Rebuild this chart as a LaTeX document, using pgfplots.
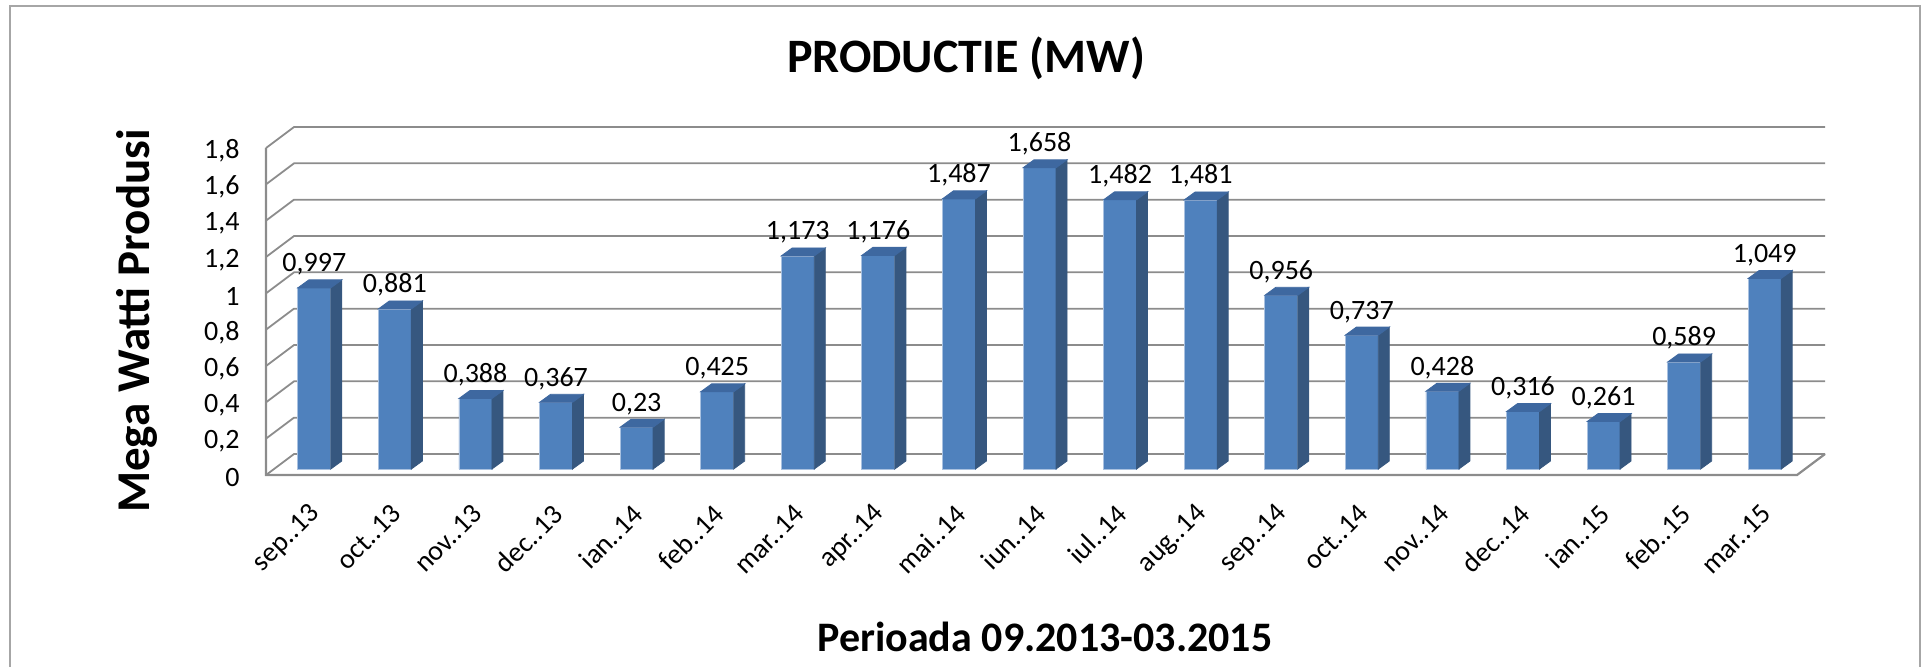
\documentclass[border=0pt]{standalone}
\usepackage{pgfplots}
\pgfplotsset{compat=1.18}
\usepackage{pgfplotstable}
\usepackage{fontspec}
\setmainfont{Carlito}
\definecolor{barfront}{HTML}{4F81BD}
\definecolor{barside}{HTML}{36577F}
\definecolor{bartop}{HTML}{3E68A0}
\definecolor{baredge}{HTML}{A9C1E0}
\definecolor{gridc}{HTML}{8C8C8C}
\definecolor{framec}{HTML}{A6A6A6}
\pgfdeclareplotmark{empty3d}{}
\pgfplotstableread{
x y lab
0 0.997 sep..13
1 0.881 oct..13
2 0.388 nov..13
3 0.367 dec..13
4 0.23 ian..14
5 0.425 feb..14
6 1.173 mar..14
7 1.176 apr..14
8 1.487 mai..14
9 1.658 iun..14
10 1.482 iul..14
11 1.481 aug..14
12 0.956 sep..14
13 0.737 oct..14
14 0.428 nov..14
15 0.316 dec..14
16 0.261 ian..15
17 0.589 feb..15
18 1.049 mar..15
}\data
\begin{document}
\begin{tikzpicture}
\useasboundingbox (0,0) rectangle (963.5pt,-333.5pt);
\draw[framec, line width=1pt] (5pt,-3pt) rectangle (960pt,-345pt);
\begin{axis}[
  at={(137pt,-234.5pt)}, anchor=south west,
  scale only axis, width=765.5pt, height=163.5pt,
  xmin=-0.5, xmax=18.5, ymin=0, ymax=1.8,
  clip=false,
  axis line style={draw=none},
  major tick length=0pt,
  xtick=data,
  xticklabels from table={\data}{lab},
  ytick={0,0.2,0.4,0.6,0.8,1,1.2,1.4,1.6,1.8},
  /pgf/number format/use comma,
  /pgf/number format/precision=3,
  /pgf/number format/assume math mode=true,
  yticklabel style={font=\fontsize{14}{16}\selectfont, anchor=east, inner sep=0pt, xshift=-17pt, yshift=-4.5pt},
  xticklabel style={font=\fontsize{14}{16}\selectfont, inner sep=0pt, yshift=-20pt, xshift=1pt, rotate=45, anchor=east},
  every axis title shift=0pt,
  title={PRODUCTIE (MW)},
  title style={at={(axis description cs:0.452,1.214)}, anchor=base, font=\fontsize{24}{28}\selectfont\bfseries, inner sep=0pt},
  xlabel={Perioada 09.2013-03.2015},
  xlabel style={at={(axis description cs:0.5036,-0.5596)}, anchor=base, font=\fontsize{21}{25}\selectfont\bfseries, inner sep=0pt},
  ylabel={Mega Watti Produsi},
  ylabel style={at={(axis description cs:-0.081,0.4526)}, anchor=base, font=\fontsize{23.5}{27}\selectfont\bfseries, inner sep=0pt},
]
\pgfplotsinvokeforeach{0,0.2,0.4,0.6,0.8,1,1.2,1.4,1.6,1.8}{
  \draw[gridc, line width=0.9pt] ([xshift=-4pt,yshift=-3pt]axis cs:-0.5,#1) -- ([xshift=10pt,yshift=7.5pt]axis cs:-0.5,#1) -- ([xshift=10pt,yshift=7.5pt]axis cs:18.5,#1);
}
\draw[gridc, line width=1.1pt] ([xshift=-4pt,yshift=-3pt]axis cs:-0.5,1.8) -- ([xshift=-4pt,yshift=-3pt]axis cs:-0.5,0) -- ([xshift=-4pt,yshift=-3pt]axis cs:18.5,0) -- ([xshift=10pt,yshift=7.5pt]axis cs:18.5,0);
\addplot[ybar, bar width=16.5pt, bar shift=0pt, fill=barfront, draw=baredge, line width=0.4pt,
  nodes near coords,
  every node near coord/.append style={font=\fontsize{14}{16}\selectfont, anchor=base, yshift=8pt, inner sep=0pt, text=black}]
  table[x=x,y=y]{\data};
\addplot[scatter, only marks, mark=empty3d,
  visualization depends on={rawy \as \ry},
  scatter/@pre marker code/.code={%
    \fill[barside] (8.25pt,0pt) -- ++(5.5pt,4pt) -- ++(axis direction cs:0,-\ry) -- ++(-5.5pt,-4pt) -- cycle;
    \fill[bartop] (-8.25pt,0pt) -- (8.25pt,0pt) -- (13.75pt,4pt) -- (-2.75pt,4pt) -- cycle;
  },
  scatter/@post marker code/.code={}
] table[x=x,y=y]{\data};
\end{axis}
\end{tikzpicture}
\end{document}
